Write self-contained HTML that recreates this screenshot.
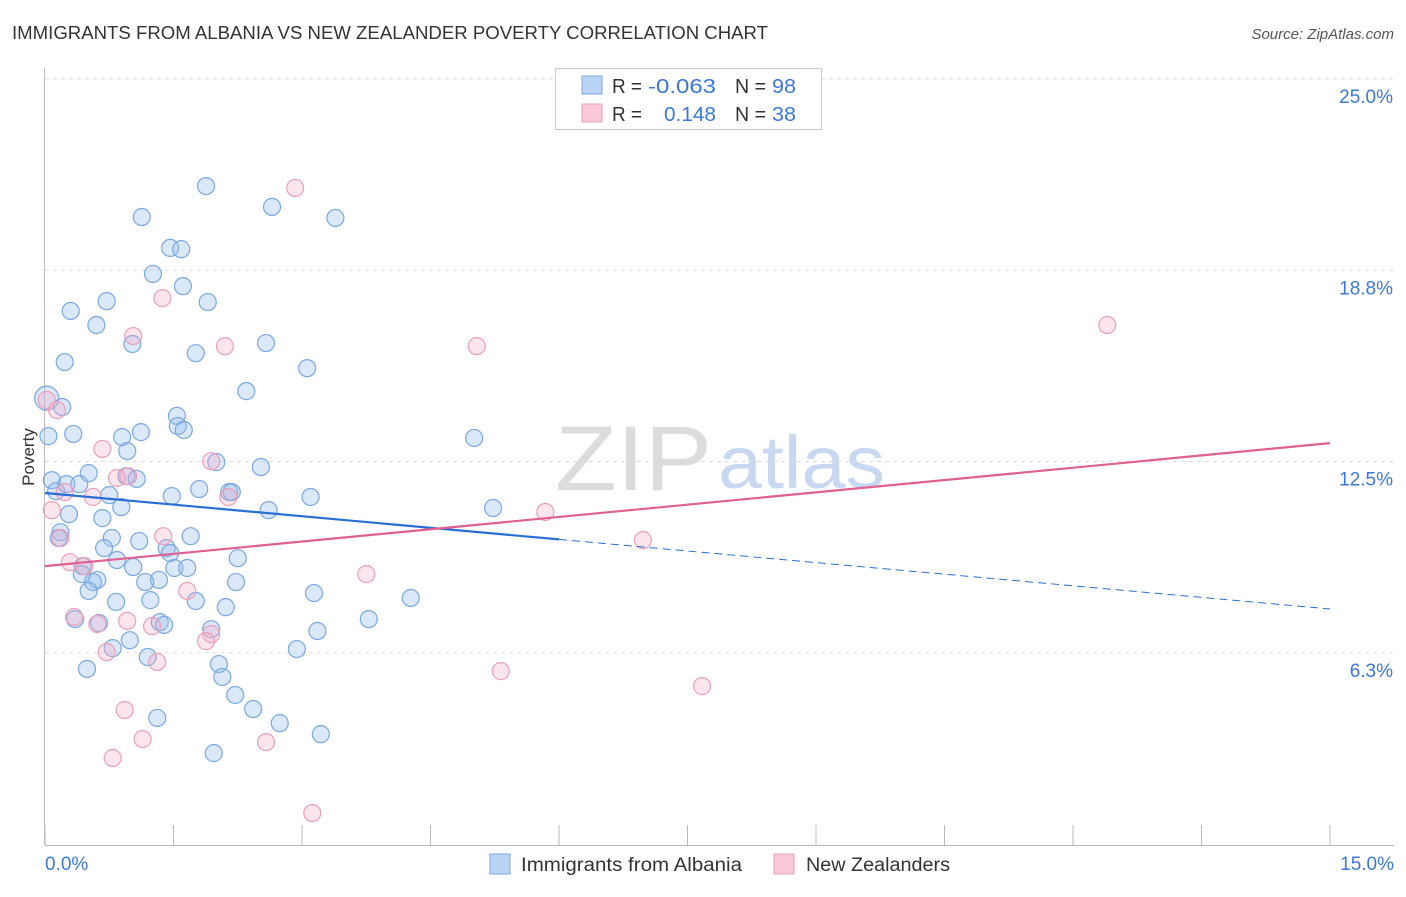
<!DOCTYPE html>
<html><head><meta charset="utf-8"><style>
body{margin:0;background:#fff;font-family:"Liberation Sans",sans-serif;}
svg text{font-family:"Liberation Sans",sans-serif;}
</style></head><body>
<svg id="chart" width="1406" height="892" xmlns="http://www.w3.org/2000/svg">
<text x="12" y="39" font-size="18" fill="#333" textLength="756" lengthAdjust="spacingAndGlyphs">IMMIGRANTS FROM ALBANIA VS NEW ZEALANDER POVERTY CORRELATION CHART</text>
<text x="1394" y="39" font-size="15" fill="#555" font-style="italic" text-anchor="end">Source: ZipAtlas.com</text>
<g>
<text x="555" y="490" font-size="92" fill="#dcdcdc" font-family="Liberation Serif" textLength="157" lengthAdjust="spacingAndGlyphs">ZIP</text>
<text x="718" y="488" font-size="74" fill="#c8d8f0" textLength="167" lengthAdjust="spacingAndGlyphs">atlas</text>
</g>
<g id="grid"></g>
<g id="axes"></g>
<g id="marks"></g>
<g id="trends"></g>
<text transform="translate(34,457) rotate(-90)" font-size="17" fill="#333" text-anchor="middle">Poverty</text>
<g>
<rect x="555.5" y="68.5" width="266" height="61" fill="#fff" stroke="#ccc"/>
<rect x="582" y="76" width="20" height="18" fill="#b9d3f5" stroke="#7aa8e0"/>
<rect x="582" y="104" width="20" height="18" fill="#fbc8d8" stroke="#eaa0b8"/>
<text x="612" y="93" font-size="20" fill="#333" textLength="30" lengthAdjust="spacingAndGlyphs">R =</text>
<text x="648" y="93" font-size="20" fill="#3b78d8" textLength="68" lengthAdjust="spacingAndGlyphs">-0.063</text>
<text x="735" y="93" font-size="20" fill="#333" textLength="31" lengthAdjust="spacingAndGlyphs">N =</text>
<text x="772" y="93" font-size="20" fill="#3b78d8" textLength="24" lengthAdjust="spacingAndGlyphs">98</text>
<text x="612" y="121" font-size="20" fill="#333" textLength="30" lengthAdjust="spacingAndGlyphs">R =</text>
<text x="664" y="121" font-size="20" fill="#3b78d8" textLength="52" lengthAdjust="spacingAndGlyphs">0.148</text>
<text x="735" y="121" font-size="20" fill="#333" textLength="31" lengthAdjust="spacingAndGlyphs">N =</text>
<text x="772" y="121" font-size="20" fill="#3b78d8" textLength="24" lengthAdjust="spacingAndGlyphs">38</text>
</g>
<g>
<rect x="490" y="854" width="20" height="20" fill="#b9d3f5" stroke="#7aa8e0"/>
<text x="521" y="871" font-size="19" fill="#333" textLength="221" lengthAdjust="spacingAndGlyphs">Immigrants from Albania</text>
<rect x="774" y="854" width="20" height="20" fill="#fbc8d8" stroke="#eaa0b8"/>
<text x="806" y="871" font-size="19" fill="#333" textLength="144" lengthAdjust="spacingAndGlyphs">New Zealanders</text>
</g>
</svg>
<script>
const blueX=[1.88,2.65,1.13,3.39,1.46,1.59,1.26,1.61,0.72,1.90,0.30,0.60,1.02,2.58,1.76,0.23,3.06,2.35,0.02,0.20,1.54,1.55,1.62,0.33,1.12,0.90,0.04,0.96,5.01,2.52,2.00,0.51,0.08,0.95,1.07,0.13,0.25,0.40,1.48,1.80,2.15,2.18,3.10,0.75,0.89,5.23,2.61,0.28,0.67,0.18,0.16,0.78,1.10,1.70,0.69,1.42,1.46,2.25,0.84,1.03,1.51,1.66,0.44,0.43,1.33,0.61,0.56,1.17,2.23,0.51,3.14,4.27,0.83,1.23,1.76,2.11,3.78,0.35,0.63,1.34,1.39,3.18,1.94,0.99,0.79,2.94,1.20,2.03,0.49,2.07,2.22,2.43,1.31,2.74,3.22,1.97];
const blueY=[21.50,20.82,20.49,20.46,19.48,19.44,18.63,18.23,17.74,17.71,17.42,16.96,16.34,16.37,16.04,15.75,15.55,14.80,14.57,14.28,13.99,13.66,13.53,13.40,13.46,13.30,13.33,12.84,13.27,12.32,12.48,12.12,11.89,12.02,11.93,11.53,11.76,11.76,11.37,11.60,11.50,11.50,11.34,11.40,11.01,10.98,10.91,10.78,10.65,10.19,10.00,10.00,9.90,10.06,9.67,9.67,9.51,9.34,9.28,9.05,9.02,9.02,9.08,8.82,8.63,8.63,8.56,8.56,8.56,8.27,8.20,8.04,7.91,7.97,7.94,7.74,7.35,7.35,7.22,7.25,7.16,6.96,7.02,6.66,6.40,6.37,6.11,5.88,5.72,5.46,4.87,4.41,4.12,3.95,3.59,2.97];
const pinkX=[2.92,1.37,1.03,2.10,5.04,12.40,0.02,0.14,0.67,1.94,0.84,0.97,0.23,0.56,2.14,0.08,5.84,1.38,0.18,6.98,0.29,0.46,3.75,1.66,0.34,0.61,0.96,1.25,1.94,1.88,0.72,1.31,5.32,7.67,0.93,1.14,2.58,0.79,3.12];
const pinkY=[21.44,17.84,16.60,16.27,16.27,16.96,14.51,14.18,12.91,12.51,11.96,12.02,11.50,11.34,11.34,10.91,10.85,10.06,10.00,9.93,9.21,9.08,8.82,8.27,7.42,7.19,7.29,7.12,6.86,6.63,6.27,5.95,5.65,5.16,4.38,3.43,3.33,2.81,1.01];
const blueTrend=[11.47,7.68];
const pinkTrend=[9.08,13.10];
const blueSolidEnd=6.0;
const yTicks=[25,18.75,12.5,6.25];
const yTickLabels=["25.0%","18.8%","12.5%","6.3%"];
const xTicks=[0,1.5,3,4.5,6,7.5,9,10.5,12,13.5,15];
const xLabels=["0.0%","15.0%"];
const NS="http://www.w3.org/2000/svg";
const xs=v=>45+v*(1285/15);
const ys=v=>844-v*30.6;
function mk(tag,attrs,parent){const e=document.createElementNS(NS,tag);for(const k in attrs)e.setAttribute(k,attrs[k]);document.getElementById(parent).appendChild(e);return e;}
yTicks.forEach((t,i)=>{
 const g=mk('line',{x1:45,x2:1394,y1:ys(t),y2:ys(t),stroke:'#ddd','stroke-dasharray':'4,4'},'grid');
 
 
 const l=mk('text',{x:1393,y:ys(t)+24,'font-size':19,fill:'#3b78d8','text-anchor':'end'},'axes');
 l.textContent=yTickLabels[i];
 
 
});
const ax=mk('line',{x1:44.5,x2:44.5,y1:68,y2:845,stroke:'#bbb'},'axes');


const bx=mk('line',{x1:45,x2:1394,y1:845.5,y2:845.5,stroke:'#bbb'},'axes');


xTicks.forEach(t=>{
 const k=mk('line',{x1:xs(t),x2:xs(t),y1:825,y2:845,stroke:'#bbb'},'axes');
 
 
});
const xl0=mk('text',{x:45,y:870,'font-size':19,fill:'#3b78d8'},'axes');xl0.textContent=xLabels[0];


const xl1=mk('text',{x:1394,y:870,'font-size':19,fill:'#3b78d8','text-anchor':'end'},'axes');xl1.textContent=xLabels[1];


blueX.forEach((x,i)=>{
 const r=(i===18)?12:8.5;
 const c=mk('circle',{cx:xs(x),cy:ys(blueY[i]),r:r,fill:'rgba(150,190,240,0.35)',stroke:'#7aa8e0','stroke-width':1.2},'marks');
 
 
});
pinkX.forEach((x,i)=>{
 const c=mk('circle',{cx:xs(x),cy:ys(pinkY[i]),r:8.5,fill:'rgba(245,170,195,0.3)',stroke:'#eaa0b8','stroke-width':1.2},'marks');
 
 
});
const bAt=x=>blueTrend[0]+(blueTrend[1]-blueTrend[0])*x/15;
const bl=mk('line',{x1:xs(0),y1:ys(bAt(0)),x2:xs(blueSolidEnd),y2:ys(bAt(blueSolidEnd)),stroke:'#2a6fd6','stroke-width':2.2},'trends');


const bd=mk('line',{x1:xs(blueSolidEnd),y1:ys(bAt(blueSolidEnd)),x2:xs(15),y2:ys(bAt(15)),stroke:'#2a6fd6','stroke-width':1,'stroke-dasharray':'8,5'},'trends');


const pl=mk('line',{x1:xs(0),y1:ys(pinkTrend[0]),x2:xs(15),y2:ys(pinkTrend[1]),stroke:'#e0608f','stroke-width':2.2},'trends');


</script>
</body></html>
